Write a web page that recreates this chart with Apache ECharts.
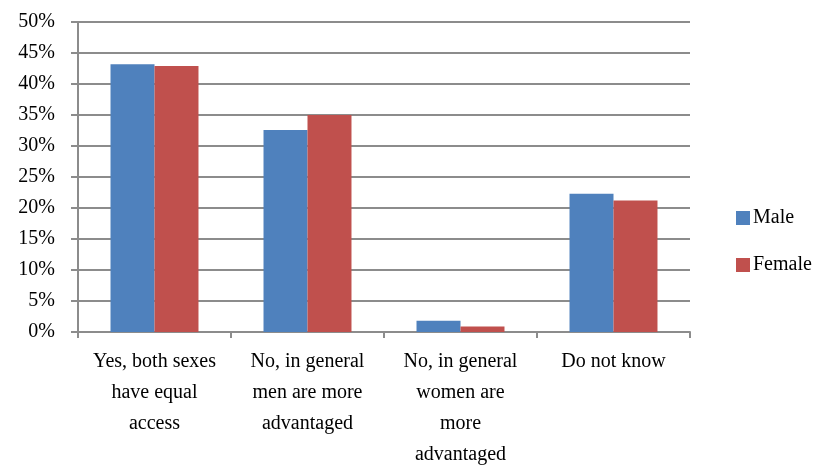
<!DOCTYPE html>
<html>
<head>
<meta charset="utf-8">
<script src="https://cdn.jsdelivr.net/npm/echarts@6/dist/echarts.min.js"></script>
<style>
  html, body { margin: 0; padding: 0; background: #ffffff; }
  #chart { width: 821px; height: 465px; }
</style>
</head>
<body>
<div id="chart"></div>
<script>
// Survey answers, share of respondents by sex (percent)
const categories = [
  "Yes, both sexes\nhave equal\naccess",
  "No, in general\nmen are more\nadvantaged",
  "No, in general\nwomen are\nmore\nadvantaged",
  "Do not know"
];
const maleValues = [43.2, 32.6, 1.8, 22.3];
const femaleValues = [42.9, 35.0, 0.9, 21.2];
const seriesNames = ["Male", "Female"];

const FONT = "'Liberation Serif', 'DejaVu Serif', serif";
const GRID_COLOR = "#8c8c8c";

const chart = echarts.init(document.getElementById("chart"), null, { renderer: "canvas" });
chart.setOption({
  animation: false,
  backgroundColor: "#ffffff",
  textStyle: { fontFamily: FONT },
  grid: {
    left: 78, right: 131, top: 22, bottom: 133,
    containLabel: false,
    outerBoundsMode: "none"
  },
  legend: {
    orient: "vertical",
    left: 731,
    top: 203,
    itemWidth: 14,
    itemHeight: 14,
    itemGap: 27,
    icon: "rect",
    textStyle: { fontFamily: FONT, fontSize: 20, color: "#000000", padding: [0, 0, 0, -2] },
    data: seriesNames
  },
  xAxis: {
    type: "category",
    data: categories,
    axisLine: { lineStyle: { color: GRID_COLOR, width: 2 } },
    axisTick: { show: true, length: 6, lineStyle: { color: GRID_COLOR, width: 2 } },
    axisLabel: {
      fontFamily: FONT,
      fontSize: 20,
      color: "#000000",
      lineHeight: 31,
      margin: 14,
      interval: 0
    }
  },
  yAxis: {
    type: "value",
    min: 0,
    max: 50,
    interval: 5,
    axisLine: { show: true, lineStyle: { color: GRID_COLOR, width: 2 } },
    axisTick: { show: true, length: 7, lineStyle: { color: GRID_COLOR, width: 2 } },
    splitLine: { lineStyle: { color: GRID_COLOR, width: 2 } },
    axisLabel: {
      fontFamily: FONT,
      fontSize: 20,
      color: "#000000",
      margin: 23,
      formatter: "{value}%"
    }
  },
  series: [
    {
      name: seriesNames[0],
      type: "bar",
      data: maleValues,
      barGap: "0%",
      barCategoryGap: "42.5%",
      itemStyle: { color: "#4f81bd" }
    },
    {
      name: seriesNames[1],
      type: "bar",
      data: femaleValues,
      barGap: "0%",
      barCategoryGap: "42.5%",
      itemStyle: { color: "#c0504d" }
    }
  ]
});
</script>
</body>
</html>
